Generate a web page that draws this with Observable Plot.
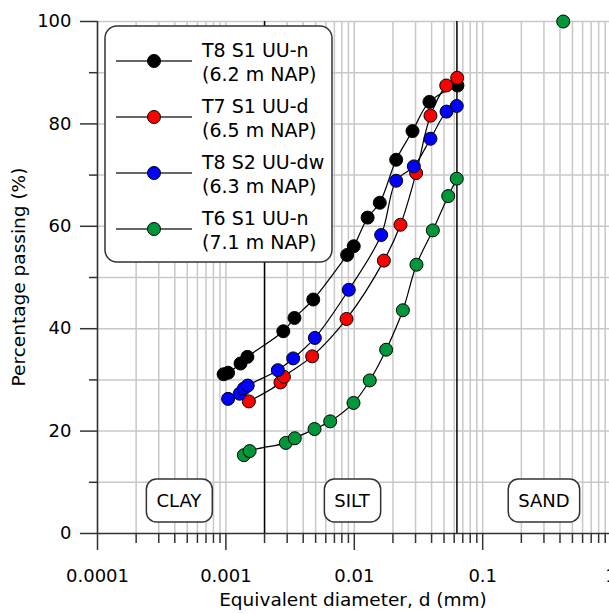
<!DOCTYPE html>
<html><head><meta charset="utf-8">
<script src="https://cdn.jsdelivr.net/npm/d3@7"></script>
<script src="https://cdn.jsdelivr.net/npm/@observablehq/plot@0.6"></script>
<style>html,body{margin:0;padding:0;background:#fff} svg{display:block}</style>
</head><body><div id="chart"></div>
<script>
// ---- data ----
const seriesNames  = ["T8 S1 UU-n", "T7 S1 UU-d", "T8 S2 UU-dw", "T6 S1 UU-n"];
const seriesDepths = ["(6.2 m NAP)", "(6.5 m NAP)", "(6.3 m NAP)", "(7.1 m NAP)"];
const seriesColors = ["#000000", "#ff0000", "#0000ff", "#009639"];

const t8s1_d = [0.00096,0.00104,0.0013,0.00147,0.0028,0.00342,0.00479,0.0088,0.0099,0.0127,0.0158,0.0212,0.0284,0.0385,0.0636];
const t8s1_p = [31.1,31.4,33.2,34.5,39.5,42.1,45.7,54.4,56.1,61.7,64.6,73.0,78.6,84.3,87.5];

const t7s1_d = [0.00151,0.00266,0.00283,0.0047,0.0087,0.0170,0.0229,0.0303,0.0392,0.052,0.0633];
const t7s1_p = [25.8,29.5,30.6,34.6,41.9,53.3,60.3,70.4,81.6,87.5,89.0];

const t8s2_d = [0.00104,0.00128,0.00138,0.00148,0.00254,0.00334,0.00493,0.00906,0.0162,0.0212,0.0291,0.0392,0.0523,0.0628];
const t8s2_p = [26.3,27.3,28.3,28.9,31.9,34.2,38.2,47.6,58.3,68.9,71.7,77.1,82.4,83.5];

const t6s1_d = [0.00138,0.00153,0.00293,0.00344,0.0049,0.00649,0.00986,0.0132,0.0177,0.0239,0.0305,0.0409,0.0539,0.0628];
const t6s1_p = [15.3,16.1,17.7,18.6,20.4,21.9,25.5,29.9,35.9,43.6,52.5,59.2,65.9,69.3];
const t6s1_extra_d = [0.424];
const t6s1_extra_p = [100];

const zoneLabels = ["CLAY", "SILT", "SAND"];
const zoneCenters = [0.00043, 0.0096, 0.30];
const zoneLevel = 6.3;
const zoneBoundaries = [0.002, 0.063];

const xTickValues = [0.0001, 0.001, 0.01, 0.1, 1];
const xTickLabels = ["0.0001", "0.001", "0.01", "0.1", "1"];
const yTickValues = [0, 20, 40, 60, 80, 100];
const yMinorValues = [10, 30, 50, 70, 90];
const xTitle = "Equivalent diameter, d (mm)";
const yTitle = "Percentage passing (%)";

// ---- build ----
const dList = [t8s1_d, t7s1_d, t8s2_d, t6s1_d];
const pList = [t8s1_p, t7s1_p, t8s2_p, t6s1_p];
const series = seriesNames.map((name, i) => ({
  name, color: seriesColors[i],
  rows: dList[i].map((d, j) => ({d, p: pList[i][j]}))
}));
const extraRows = t6s1_extra_d.map((d, j) => ({d, p: t6s1_extra_p[j]}));

const xGrid = [];
for (let e = -4; e <= -1; e++) for (let m = 1; m <= 9; m++) xGrid.push(+(m * Math.pow(10, e)).toPrecision(3));
const xMinor = xGrid.filter(v => !xTickValues.includes(v));
const yGrid = d3.range(10, 101, 10);

const FONT = "DejaVu Sans";
const AX = "#333";

const marks = [
  Plot.ruleX(xGrid, {stroke: "#c8c8c8", strokeWidth: 1.5}),
  Plot.ruleY(yGrid, {stroke: "#c8c8c8", strokeWidth: 1.5}),
  Plot.ruleX(zoneBoundaries, {stroke: "#000", strokeWidth: 1.5}),
  Plot.ruleY([0], {stroke: AX, strokeWidth: 1.5}),
  Plot.ruleX([xTickValues[0]], {stroke: AX, strokeWidth: 1.5}),
  Plot.axisX(xTickValues.slice(0, 4), {tickSize: 17, tickFormat: () => "", stroke: AX, strokeWidth: 1.5, label: null}),
  Plot.axisX(xMinor, {tickSize: 10, tickFormat: () => "", stroke: AX, strokeWidth: 1.5, label: null}),
  Plot.axisY(yTickValues, {tickSize: 17, tickPadding: 9, fontSize: 18, stroke: AX, strokeWidth: 1.5, label: null}),
  Plot.axisY(yMinorValues, {tickSize: 8, tickFormat: () => "", stroke: AX, strokeWidth: 1.5, label: null}),
  Plot.text(xTickValues, {x: d => d, y: () => 0, text: (d, i) => xTickLabels[i], dy: 43, fontSize: 18, lineAnchor: "middle", fill: "#000"}),
  Plot.text(zoneLabels, {x: (d, i) => zoneCenters[i], y: () => zoneLevel, text: d => d, fontSize: 18, lineAnchor: "middle", fill: "#000"})
];
for (const s of series) {
  marks.push(Plot.line(s.rows, {x: "d", y: "p", stroke: "#000", strokeWidth: 1.2, curve: "catmull-rom"}));
  marks.push(Plot.dot(s.rows, {x: "d", y: "p", r: 6.5, fill: s.color, stroke: "#000", strokeWidth: 1}));
}
marks.push(Plot.dot(extraRows, {x: "d", y: "p", r: 6.5, fill: seriesColors[3], stroke: "#000", strokeWidth: 1}));

const chart = Plot.plot({
  width: 609, height: 614,
  marginLeft: 97, marginRight: 0, marginTop: 21, marginBottom: 81,
  x: {type: "log", domain: [1e-4, 0.972]},
  y: {domain: [0, 100]},
  style: {fontFamily: FONT, fontSize: "18px", color: "#000", background: "#fff", overflow: "visible"},
  marks
});
document.getElementById("chart").appendChild(chart);

const svg = d3.select(chart);

// rounded boxes behind zone labels
svg.selectAll("text").filter(function() { return zoneLabels.includes(this.textContent); }).each(function() {
  const b = this.getBBox();
  const padX = 10, h = 43;
  const cy = b.y + b.height / 2;
  const tr = this.getAttribute("transform");
  const r = d3.select(this.parentNode).insert("rect", () => this)
    .attr("x", b.x - padX).attr("y", cy - h / 2)
    .attr("width", b.width + 2 * padX).attr("height", h)
    .attr("rx", 10).attr("fill", "#fff").attr("stroke", AX).attr("stroke-width", 1.5);
  if (tr) r.attr("transform", tr);
});

// axis titles
svg.append("text").attr("x", 353).attr("y", 601).attr("text-anchor", "middle")
  .attr("dominant-baseline", "middle").attr("font-family", FONT).attr("font-size", 18.5).text(xTitle);
svg.append("text").attr("transform", "translate(20,277) rotate(-90)").attr("text-anchor", "middle")
  .attr("dominant-baseline", "middle").attr("font-family", FONT).attr("font-size", 18.5).text(yTitle);

// legend
const lg = svg.append("g").attr("font-family", FONT).attr("font-size", 19).attr("text-anchor", "start");
lg.append("rect").attr("x", 105).attr("y", 26).attr("width", 227).attr("height", 236)
  .attr("rx", 12).attr("fill", "#fff").attr("stroke", AX).attr("stroke-width", 1.5);
seriesNames.forEach((name, i) => {
  const cy = 61 + 56 * i;
  lg.append("line").attr("x1", 116).attr("x2", 192).attr("y1", cy).attr("y2", cy).attr("stroke", AX).attr("stroke-width", 1.5);
  lg.append("circle").attr("cx", 154).attr("cy", cy).attr("r", 6.5).attr("fill", seriesColors[i]).attr("stroke", "#000");
  lg.append("text").attr("x", 202).attr("y", cy - 9.5).attr("dominant-baseline", "middle").attr("text-anchor", "start").text(name);
  lg.append("text").attr("x", 202).attr("y", cy + 14).attr("dominant-baseline", "middle").attr("text-anchor", "start").text(seriesDepths[i]);
});
</script>
</body></html>
